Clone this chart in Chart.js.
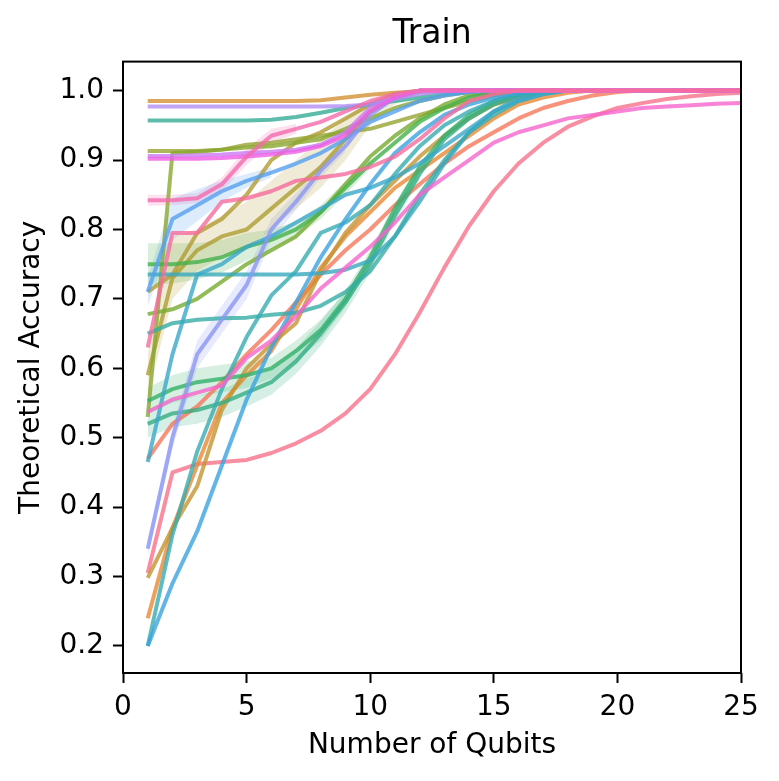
<!DOCTYPE html>
<html><head><meta charset="utf-8">
<script src="https://cdn.jsdelivr.net/npm/chart.js@4.4.1/dist/chart.umd.min.js"></script>
<style>html,body{margin:0;padding:0;background:#fff}#wrap{width:779px;height:781px}</style>
</head><body><div id="wrap"><canvas id="c" width="779" height="781"></canvas></div>
<script>
// ---- data ----
const qubits = [1,2,3,4,5,6,7,8,9,10,11,12,13,14,15,16,17,18,19,20,21,22,23,24,25];
const xTicks = [0,5,10,15,20,25];
const yTicks = [0.2,0.3,0.4,0.5,0.6,0.7,0.8,0.9,1.0];

const sA = [0.305,0.450,0.462,0.465,0.468,0.478,0.492,0.510,0.535,0.570,0.620,0.680,0.745,0.805,0.855,0.895,0.925,0.948,0.963,0.975,0.982,0.988,0.992,0.995,0.997];
const sB = [0.470,0.520,0.545,0.580,0.620,0.655,0.695,0.735,0.770,0.800,0.835,0.865,0.895,0.920,0.940,0.960,0.975,0.985,0.993,0.998,1.0,1.0,1.0,1.0,1.0];
const sC = [0.240,0.370,0.460,0.550,0.590,0.625,0.685,0.745,0.790,0.825,0.860,0.885,0.910,0.935,0.960,0.980,0.990,0.997,1.0,1.0,1.0,1.0,1.0,1.0,1.0];
const sD = [0.985,0.985,0.985,0.985,0.985,0.985,0.985,0.986,0.990,0.994,0.997,0.999,1.0,1.0,1.0,1.0,1.0,1.0,1.0,1.0,1.0,1.0,1.0,1.0,1.0];
const sE = [0.298,0.370,0.430,0.540,0.600,0.635,0.665,0.740,0.795,0.835,0.870,0.905,0.935,0.960,0.980,0.990,0.997,1.0,1.0,1.0,1.0,1.0,1.0,1.0,1.0];
const sF = [0.590,0.730,0.770,0.790,0.800,0.830,0.860,0.890,0.930,0.970,0.990,0.998,1.0,1.0,1.0,1.0,1.0,1.0,1.0,1.0,1.0,1.0,1.0,1.0,1.0];
const sG = [0.710,0.735,0.795,0.815,0.850,0.900,0.925,0.940,0.960,0.980,0.995,1.0,1.0,1.0,1.0,1.0,1.0,1.0,1.0,1.0,1.0,1.0,1.0,1.0,1.0];
const sH = [0.913,0.913,0.913,0.915,0.922,0.925,0.930,0.935,0.940,0.945,0.955,0.965,0.975,0.985,0.993,0.998,1.0,1.0,1.0,1.0,1.0,1.0,1.0,1.0,1.0];
const sI = [0.530,0.910,0.912,0.915,0.918,0.920,0.925,0.930,0.945,0.960,0.975,0.985,0.993,0.998,1.0,1.0,1.0,1.0,1.0,1.0,1.0,1.0,1.0,1.0,1.0];
const sJ = [0.678,0.685,0.700,0.725,0.750,0.770,0.790,0.825,0.865,0.905,0.935,0.960,0.980,0.993,0.998,1.0,1.0,1.0,1.0,1.0,1.0,1.0,1.0,1.0,1.0];
const sK = [0.750,0.750,0.753,0.760,0.775,0.785,0.800,0.825,0.860,0.895,0.925,0.955,0.975,0.990,0.997,1.0,1.0,1.0,1.0,1.0,1.0,1.0,1.0,1.0,1.0];
const sL = [0.553,0.570,0.580,0.585,0.590,0.600,0.625,0.655,0.700,0.760,0.830,0.890,0.935,0.965,0.985,0.995,1.0,1.0,1.0,1.0,1.0,1.0,1.0,1.0,1.0];
const sM = [0.520,0.535,0.540,0.550,0.565,0.580,0.610,0.650,0.695,0.750,0.820,0.880,0.930,0.960,0.980,0.993,0.998,1.0,1.0,1.0,1.0,1.0,1.0,1.0,1.0];
const sN = [0.957,0.957,0.957,0.957,0.957,0.958,0.962,0.968,0.975,0.980,0.985,0.990,0.995,0.998,1.0,1.0,1.0,1.0,1.0,1.0,1.0,1.0,1.0,1.0,1.0];
const sO = [0.650,0.665,0.670,0.672,0.673,0.677,0.680,0.690,0.710,0.740,0.790,0.850,0.900,0.940,0.965,0.985,0.995,1.0,1.0,1.0,1.0,1.0,1.0,1.0,1.0];
const sP = [0.200,0.360,0.480,0.570,0.645,0.705,0.740,0.795,0.810,0.835,0.880,0.920,0.950,0.970,0.985,0.995,1.0,1.0,1.0,1.0,1.0,1.0,1.0,1.0,1.0];
const sQ = [0.735,0.735,0.735,0.735,0.735,0.735,0.735,0.737,0.742,0.755,0.790,0.840,0.895,0.940,0.970,0.990,0.998,1.0,1.0,1.0,1.0,1.0,1.0,1.0,1.0];
const sR = [0.465,0.620,0.735,0.750,0.775,0.790,0.810,0.830,0.850,0.860,0.875,0.895,0.920,0.945,0.970,0.985,0.995,1.0,1.0,1.0,1.0,1.0,1.0,1.0,1.0];
const sS = [0.200,0.290,0.365,0.460,0.555,0.630,0.695,0.760,0.815,0.865,0.910,0.940,0.965,0.980,0.990,0.997,1.0,1.0,1.0,1.0,1.0,1.0,1.0,1.0,1.0];
const sT = [0.710,0.815,0.835,0.855,0.870,0.882,0.895,0.910,0.930,0.955,0.970,0.985,0.993,0.998,1.0,1.0,1.0,1.0,1.0,1.0,1.0,1.0,1.0,1.0,1.0];
const sU = [0.340,0.500,0.620,0.670,0.720,0.800,0.840,0.885,0.920,0.965,0.990,1.0,1.0,1.0,1.0,1.0,1.0,1.0,1.0,1.0,1.0,1.0,1.0,1.0,1.0];
const sV = [0.977,0.977,0.977,0.977,0.977,0.977,0.977,0.977,0.978,0.980,0.988,0.995,0.999,1.0,1.0,1.0,1.0,1.0,1.0,1.0,1.0,1.0,1.0,1.0,1.0];
const sW = [0.906,0.906,0.907,0.908,0.910,0.912,0.915,0.922,0.940,0.975,0.993,1.0,1.0,1.0,1.0,1.0,1.0,1.0,1.0,1.0,1.0,1.0,1.0,1.0,1.0];
const sX = [0.902,0.902,0.902,0.903,0.905,0.908,0.912,0.920,0.935,0.970,0.990,1.0,1.0,1.0,1.0,1.0,1.0,1.0,1.0,1.0,1.0,1.0,1.0,1.0,1.0];
const sY = [0.537,0.555,0.565,0.575,0.615,0.640,0.675,0.715,0.745,0.775,0.810,0.850,0.875,0.900,0.925,0.940,0.950,0.960,0.965,0.970,0.975,0.977,0.979,0.981,0.982];
const sZ = [0.842,0.842,0.845,0.865,0.905,0.935,0.945,0.955,0.970,0.985,0.995,1.0,1.0,1.0,1.0,1.0,1.0,1.0,1.0,1.0,1.0,1.0,1.0,1.0,1.0];
const s0 = [0.630,0.795,0.795,0.840,0.845,0.855,0.870,0.875,0.880,0.890,0.905,0.930,0.960,0.985,0.995,1.0,1.0,1.0,1.0,1.0,1.0,1.0,1.0,1.0,1.0];

const seriesValues = [sA,sB,sC,sD,sE,sF,sG,sH,sI,sJ,sK,sL,sM,sN,sO,sP,sQ,sR,sS,sT,sU,sV,sW,sX,sY,sZ,s0];
const seriesColors = ['#f77189','#f5775a','#e88a35','#d39035','#c49532','#ae9d31','#b39b33','#97a431','#8aa731','#77ab31','#45b04a','#33b06a','#34ae83','#35ad95','#36ada4','#37abb0','#38a9bc','#39a7c8','#3ba3df','#56a0f0','#8b96f4','#b08ef4','#cc7af4','#ed5ee5','#f565cc','#f56aae','#f66c9c'];

// confidence bands: [series index, lower, upper]
const bandF_lo = [0.560,0.700,0.740,0.760,0.770,0.800,0.830,0.860,0.900,0.950,0.980,0.996];
const bandF_hi = [0.620,0.790,0.800,0.820,0.840,0.870,0.900,0.930,0.960,0.985,0.998,1.0];
const bandK_lo = [0.720,0.722,0.728,0.738,0.755,0.770,0.788,0.815,0.850,0.888];
const bandK_hi = [0.780,0.780,0.780,0.785,0.795,0.800,0.812,0.835,0.870,0.902];
const bandL_lo = [0.535,0.550,0.560,0.565,0.572,0.585,0.610,0.640,0.688,0.750,0.822,0.884];
const bandL_hi = [0.572,0.590,0.600,0.605,0.610,0.615,0.640,0.670,0.712,0.770,0.838,0.896];
const bandM_lo = [0.500,0.515,0.520,0.530,0.545,0.562,0.592,0.632,0.680,0.738,0.810,0.872];
const bandM_hi = [0.540,0.555,0.560,0.570,0.585,0.598,0.628,0.668,0.710,0.762,0.830,0.888];
const bandT_lo = [0.690,0.785,0.812,0.840,0.860,0.875];
const bandT_hi = [0.730,0.845,0.858,0.870,0.880,0.890];
const bandU_lo = [0.330,0.485,0.600,0.650,0.700,0.785,0.828,0.875,0.912];
const bandU_hi = [0.350,0.515,0.640,0.690,0.740,0.815,0.852,0.895,0.928];
const bandZ_lo = [0.834,0.835,0.838,0.855,0.893,0.925,0.938];
const bandZ_hi = [0.850,0.850,0.852,0.875,0.917,0.945,0.952];
const bands = [[5,bandF_lo,bandF_hi],[10,bandK_lo,bandK_hi],[11,bandL_lo,bandL_hi],[12,bandM_lo,bandM_hi],[19,bandT_lo,bandT_hi],[20,bandU_lo,bandU_hi],[25,bandZ_lo,bandZ_hi]];

// ---- build ----
function rgba(hex,a){const n=parseInt(hex.slice(1),16);return `rgba(${n>>16&255},${n>>8&255},${n&255},${a})`;}
const toPts = arr => arr.map((v,i)=>({x:qubits[i],y:v}));
const datasets = [];
bands.forEach(([si,lo,hi])=>{
  datasets.push({data:toPts(lo),borderWidth:0,pointRadius:0,fill:false,order:1000,borderColor:'rgba(0,0,0,0)'});
  datasets.push({data:toPts(hi),borderWidth:0,pointRadius:0,fill:'-1',order:1000,borderColor:'rgba(0,0,0,0)',backgroundColor:rgba(seriesColors[si],0.2)});
});
seriesValues.forEach((vals,i)=>{
  datasets.push({data:toPts(vals),borderColor:rgba(seriesColors[i],0.8),borderWidth:4,pointRadius:0,fill:false,tension:0,order:-i,borderJoinStyle:'round',borderCapStyle:'butt'});
});

const FONT='DejaVu Sans';
const frame={id:'frame',afterDatasetsDraw(chart){const a=chart.chartArea,c=chart.ctx;c.save();c.strokeStyle='#000';c.lineWidth=2;c.strokeRect(a.left,a.top,a.right-a.left,a.bottom-a.top);c.restore();}};

new Chart(document.getElementById('c'),{
  type:'line',
  data:{datasets},
  plugins:[frame],
  options:{
    responsive:false,animation:false,devicePixelRatio:1,
    layout:{padding:{left:5,right:38,top:0,bottom:5}},
    plugins:{legend:{display:false},tooltip:{enabled:false},
      title:{display:true,fullSize:false,text:'Train',color:'#000',font:{family:FONT,size:33,weight:'normal'},padding:{top:15,bottom:7}}},
    scales:{
      x:{type:'linear',min:0,max:25,
        afterBuildTicks:s=>{s.ticks=xTicks.map(v=>({value:v}));},
        afterFit:s=>{s.height=103;},
        border:{display:false},
        grid:{drawOnChartArea:false,drawTicks:true,tickLength:10,tickWidth:2,tickColor:'#000'},
        ticks:{color:'#000',font:{family:FONT,size:28},padding:8,maxRotation:0,callback:v=>String(v)},
        title:{display:true,text:'Number of Qubits',color:'#000',font:{family:FONT,size:28},padding:{top:0,bottom:13}}},
      y:{type:'linear',min:0.1611,max:1.0418,
        afterBuildTicks:s=>{s.ticks=yTicks.map(v=>({value:v}));},
        afterFit:s=>{s.width=118;},
        border:{display:false},
        grid:{drawOnChartArea:false,drawTicks:true,tickLength:10,tickWidth:2,tickColor:'#000'},
        ticks:{color:'#000',font:{family:FONT,size:28},padding:9,callback:v=>Number(v).toFixed(1)},
        title:{display:true,text:'Theoretical Accuracy',color:'#000',font:{family:FONT,size:28},padding:{top:10,bottom:0}}}
    }
  }
});
</script></body></html>
